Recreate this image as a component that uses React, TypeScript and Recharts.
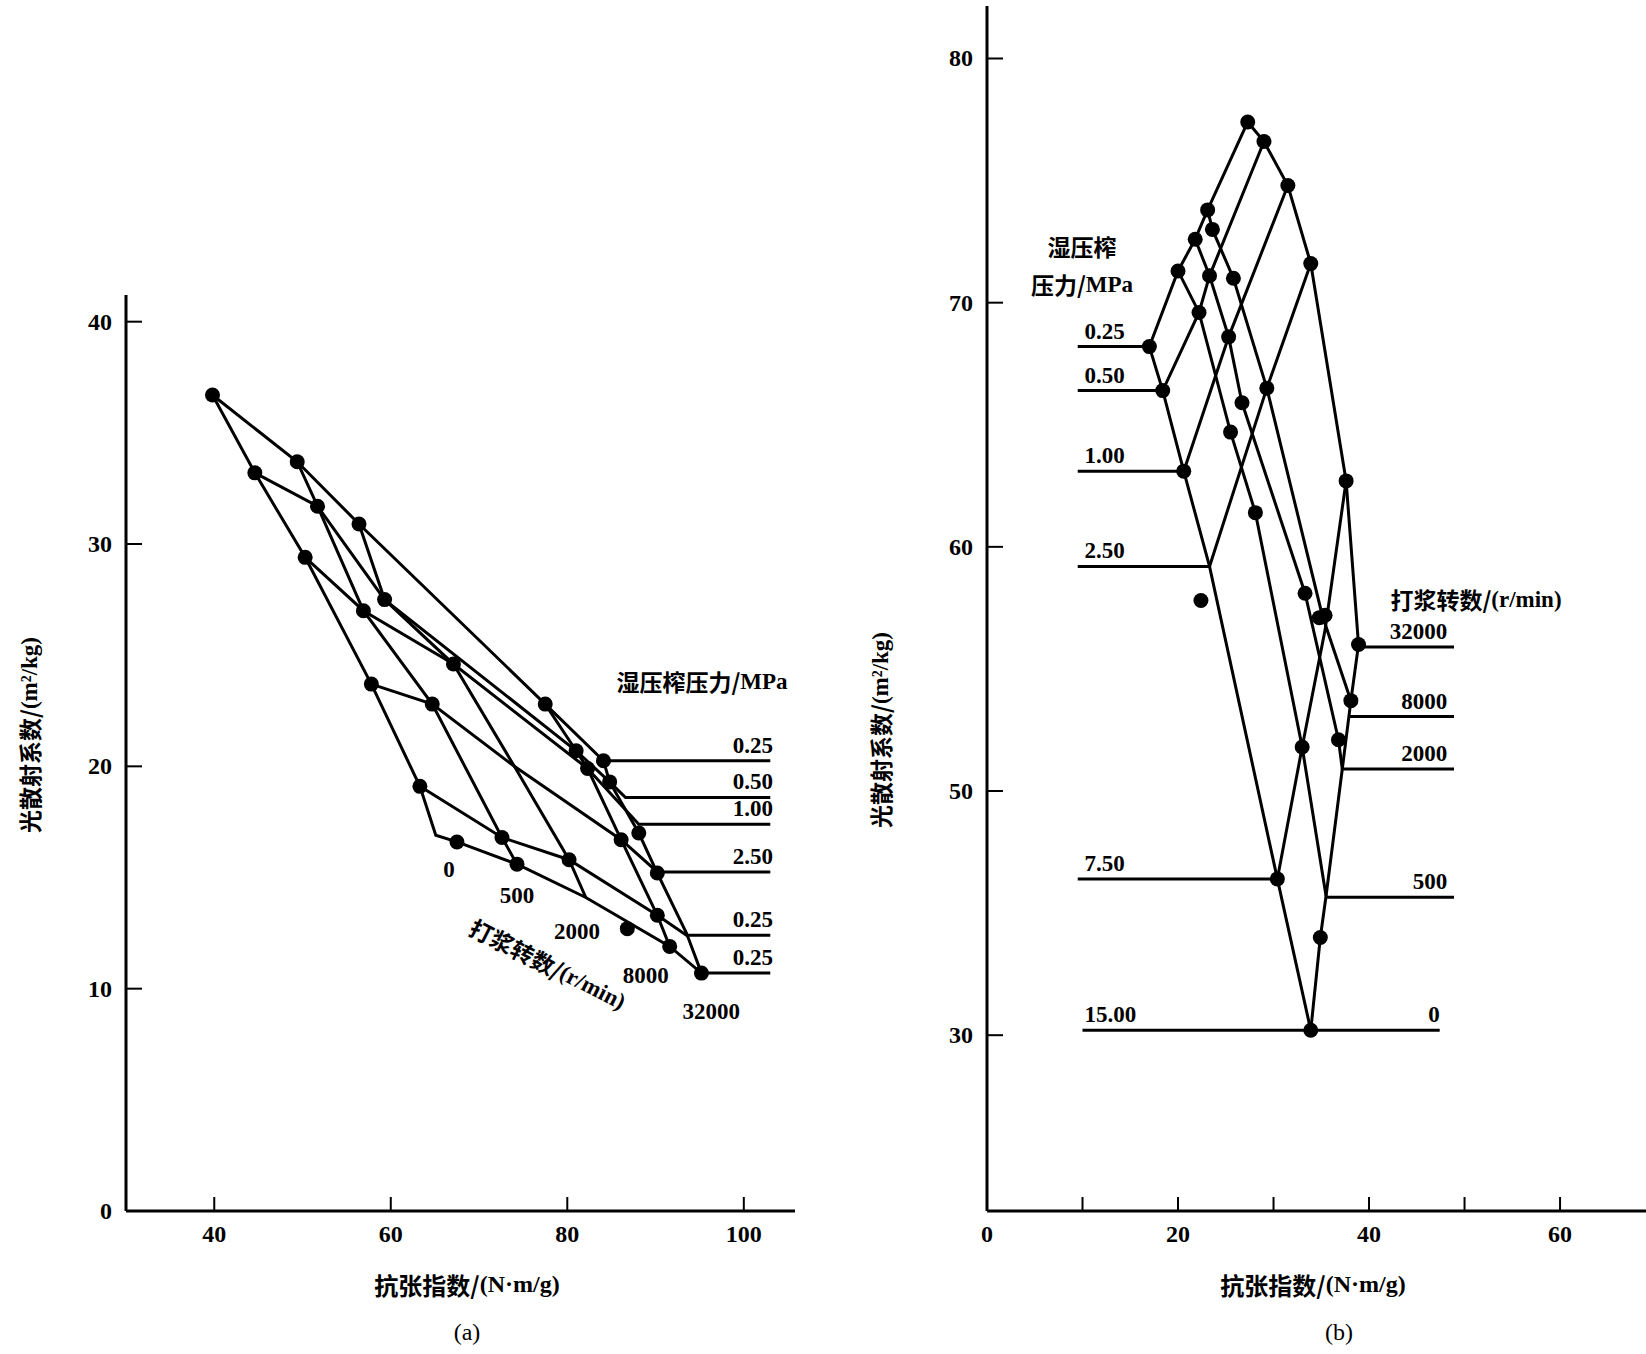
import React from 'react'
import { ComposedChart, Scatter, XAxis, YAxis, ZAxis } from 'recharts'

// ---------- (a) left panel ----------
// beating-revolution curves (steep), pressure curves (shallow)
const aBeat0 = [
  { x: 39.8, y: 36.7 }, { x: 44.6, y: 33.2 }, { x: 50.3, y: 29.4 },
  { x: 57.8, y: 23.7 }, { x: 63.3, y: 19.1 }, { x: 65.1, y: 16.9 }, { x: 67.5, y: 16.6 },
]
const aBeat500 = [
  { x: 49.4, y: 33.7 }, { x: 51.7, y: 31.7 }, { x: 56.9, y: 27.0 },
  { x: 64.7, y: 22.8 }, { x: 72.6, y: 16.8 }, { x: 74.3, y: 15.6 },
]
const aBeat2000 = [
  { x: 56.4, y: 30.9 }, { x: 59.3, y: 27.5 }, { x: 67.1, y: 24.6 },
  { x: 74.0, y: 20.0 }, { x: 80.2, y: 15.8 }, { x: 82.1, y: 14.1 },
]
const aBeat8000 = [
  { x: 77.5, y: 22.8 }, { x: 81.0, y: 20.7 }, { x: 82.3, y: 19.9 },
  { x: 86.1, y: 16.7 }, { x: 90.2, y: 13.3 }, { x: 91.6, y: 11.9 },
]
const aBeat32000 = [
  { x: 84.1, y: 20.25 }, { x: 84.8, y: 19.3 }, { x: 88.1, y: 17.0 },
  { x: 90.2, y: 15.2 }, { x: 93.5, y: 12.5 }, { x: 95.2, y: 10.7 },
]
const aPress1 = [
  { x: 39.8, y: 36.7 }, { x: 49.4, y: 33.7 }, { x: 56.4, y: 30.9 },
  { x: 77.5, y: 22.8 }, { x: 84.1, y: 20.25 }, { x: 103, y: 20.25 },
]
const aPress2 = [
  { x: 44.6, y: 33.2 }, { x: 51.7, y: 31.7 }, { x: 59.3, y: 27.5 },
  { x: 81.0, y: 20.7 }, { x: 84.8, y: 19.3 }, { x: 86.6, y: 18.6 }, { x: 103, y: 18.6 },
]
const aPress3 = [
  { x: 50.3, y: 29.4 }, { x: 56.9, y: 27.0 }, { x: 67.1, y: 24.6 },
  { x: 82.3, y: 19.9 }, { x: 88.1, y: 17.4 }, { x: 103, y: 17.4 },
]
const aPress4 = [
  { x: 57.8, y: 23.7 }, { x: 64.7, y: 22.8 }, { x: 74.0, y: 20.0 },
  { x: 86.1, y: 16.7 }, { x: 90.2, y: 15.25 }, { x: 103, y: 15.25 },
]
const aPress5 = [
  { x: 63.3, y: 19.1 }, { x: 72.6, y: 16.8 }, { x: 80.2, y: 15.8 },
  { x: 90.2, y: 13.3 }, { x: 93.5, y: 12.4 }, { x: 103, y: 12.4 },
]
const aPress6 = [
  { x: 67.5, y: 16.6 }, { x: 74.3, y: 15.6 }, { x: 82.1, y: 14.1 },
  { x: 91.6, y: 11.9 }, { x: 95.2, y: 10.7 }, { x: 103, y: 10.7 },
]
const aDots = [
  { x: 39.8, y: 36.7 }, { x: 44.6, y: 33.2 }, { x: 49.4, y: 33.7 }, { x: 51.7, y: 31.7 },
  { x: 56.4, y: 30.9 }, { x: 50.3, y: 29.4 }, { x: 56.9, y: 27.0 }, { x: 59.3, y: 27.5 },
  { x: 67.1, y: 24.6 }, { x: 57.8, y: 23.7 }, { x: 64.7, y: 22.8 }, { x: 77.5, y: 22.8 },
  { x: 81.0, y: 20.7 }, { x: 84.1, y: 20.25 }, { x: 82.3, y: 19.9 }, { x: 84.8, y: 19.3 },
  { x: 63.3, y: 19.1 }, { x: 88.1, y: 17.0 }, { x: 86.1, y: 16.7 }, { x: 67.5, y: 16.6 },
  { x: 72.6, y: 16.8 }, { x: 74.3, y: 15.6 }, { x: 80.2, y: 15.8 }, { x: 90.2, y: 15.2 },
  { x: 90.2, y: 13.3 }, { x: 86.8, y: 12.7 }, { x: 91.6, y: 11.9 }, { x: 95.2, y: 10.7 },
]
const aPressLabels = [
  { x: 103.3, y: 20.25, t: '0.25' }, { x: 103.3, y: 18.6, t: '0.50' },
  { x: 103.3, y: 17.4, t: '1.00' }, { x: 103.3, y: 15.25, t: '2.50' },
  { x: 103.3, y: 12.4, t: '0.25' }, { x: 103.3, y: 10.7, t: '0.25' },
]
const aBeatLabels = [
  { x: 66.6, y: 15.4, t: '0' }, { x: 74.3, y: 14.2, t: '500' },
  { x: 81.1, y: 12.6, t: '2000' }, { x: 88.9, y: 10.6, t: '8000' },
  { x: 96.3, y: 9.0, t: '32000' },
]
const aXTicks = [40, 60, 80, 100]
const aYTicks = [0, 10, 20, 30, 40]

// ---------- (b) right panel ----------
const bBeat0 = [
  { x: 17.0, y: 68.2 }, { x: 18.4, y: 66.4 }, { x: 20.6, y: 63.1 },
  { x: 23.3, y: 59.2 }, { x: 30.4, y: 46.4 }, { x: 33.9, y: 40.2 },
]
const bBeat500 = [
  { x: 20.0, y: 71.3 }, { x: 22.2, y: 69.6 }, { x: 25.5, y: 64.7 },
  { x: 28.1, y: 61.4 }, { x: 33.0, y: 51.8 }, { x: 35.5, y: 45.7 },
]
const bBeat2000 = [
  { x: 21.8, y: 72.6 }, { x: 23.3, y: 71.1 }, { x: 25.3, y: 68.6 }, { x: 26.7, y: 65.9 },
  { x: 33.3, y: 58.1 }, { x: 36.8, y: 52.1 }, { x: 37.2, y: 50.9 },
]
const bBeat8000 = [
  { x: 23.1, y: 73.8 }, { x: 23.6, y: 73.0 }, { x: 25.8, y: 71.0 },
  { x: 29.3, y: 66.5 }, { x: 35.1, y: 57.2 }, { x: 38.1, y: 53.7 },
]
const bBeat32000 = [
  { x: 27.3, y: 77.4 }, { x: 29.0, y: 76.6 }, { x: 31.5, y: 74.8 },
  { x: 33.9, y: 71.6 }, { x: 37.6, y: 62.7 }, { x: 38.9, y: 56.0 },
]
const bPress1 = [
  { x: 9.5, y: 68.2 }, { x: 17.0, y: 68.2 }, { x: 20.0, y: 71.3 }, { x: 21.8, y: 72.6 },
  { x: 23.1, y: 73.8 }, { x: 27.3, y: 77.4 },
]
const bPress2 = [
  { x: 9.5, y: 66.4 }, { x: 18.4, y: 66.4 }, { x: 22.2, y: 69.6 }, { x: 23.3, y: 71.1 },
  { x: 29.0, y: 76.6 },
]
const bPress3 = [
  { x: 9.5, y: 63.1 }, { x: 20.6, y: 63.1 }, { x: 25.3, y: 68.6 }, { x: 31.5, y: 74.8 },
]
const bPress4 = [
  { x: 9.5, y: 59.2 }, { x: 23.3, y: 59.2 }, { x: 29.3, y: 66.5 }, { x: 33.9, y: 71.6 },
]
const bPress5 = [
  { x: 9.5, y: 46.4 }, { x: 30.4, y: 46.4 }, { x: 33.0, y: 51.8 }, { x: 35.4, y: 56.6 },
  { x: 37.6, y: 62.7 },
]
const bPress6 = [
  { x: 10.0, y: 40.2 }, { x: 47.4, y: 40.2 },
]
const bEdge = [
  { x: 33.9, y: 40.2 }, { x: 34.9, y: 44.0 }, { x: 35.5, y: 45.7 }, { x: 37.2, y: 50.9 },
  { x: 38.1, y: 53.7 }, { x: 38.9, y: 56.0 },
]
const bBeatLines = [
  [{ x: 38.9, y: 55.9 }, { x: 48.9, y: 55.9 }],
  [{ x: 38.0, y: 53.05 }, { x: 48.9, y: 53.05 }],
  [{ x: 37.2, y: 50.9 }, { x: 48.9, y: 50.9 }],
  [{ x: 35.6, y: 45.65 }, { x: 48.9, y: 45.65 }],
]
const bDots = [
  { x: 27.3, y: 77.4 }, { x: 29.0, y: 76.6 }, { x: 31.5, y: 74.8 }, { x: 23.1, y: 73.8 },
  { x: 23.6, y: 73.0 }, { x: 21.8, y: 72.6 }, { x: 33.9, y: 71.6 }, { x: 20.0, y: 71.3 },
  { x: 23.3, y: 71.1 }, { x: 25.8, y: 71.0 }, { x: 22.2, y: 69.6 }, { x: 25.3, y: 68.6 },
  { x: 17.0, y: 68.2 }, { x: 29.3, y: 66.5 }, { x: 18.4, y: 66.4 }, { x: 26.7, y: 65.9 },
  { x: 25.5, y: 64.7 }, { x: 20.6, y: 63.1 }, { x: 28.1, y: 61.4 }, { x: 37.6, y: 62.7 },
  { x: 22.4, y: 57.8 }, { x: 33.3, y: 58.1 }, { x: 35.4, y: 57.2 }, { x: 34.8, y: 57.1 },
  { x: 38.9, y: 56.0 }, { x: 38.1, y: 53.7 }, { x: 36.8, y: 52.1 }, { x: 33.0, y: 51.8 },
  { x: 30.4, y: 46.4 }, { x: 34.9, y: 44.0 }, { x: 33.9, y: 40.2 },
]
const bPressLabels = [
  { x: 10.2, y: 68.2, t: '0.25' }, { x: 10.2, y: 66.4, t: '0.50' },
  { x: 10.2, y: 63.1, t: '1.00' }, { x: 10.2, y: 59.2, t: '2.50' },
  { x: 10.2, y: 46.4, t: '7.50' }, { x: 10.2, y: 40.2, t: '15.00' },
]
const bBeatLabels = [
  { x: 48.2, y: 55.9, t: '32000' }, { x: 48.2, y: 53.05, t: '8000' },
  { x: 48.2, y: 50.9, t: '2000' }, { x: 48.2, y: 45.65, t: '500' },
  { x: 47.4, y: 40.2, t: '0' },
]
const bXTicks = [0, 10, 20, 30, 40, 50, 60]
const bYTicks = [40, 50, 60, 70, 80]
const bYTickText = ['30', '50', '60', '70', '80']

const numFont = '"Liberation Serif", "Times New Roman", serif'
const cjkFont = '"Noto Sans CJK SC", sans-serif'

const noShape = () => <g />
const dotShape = (p: any) => <circle cx={p.cx} cy={p.cy} r={7.5} fill="#000" />

const lineStyle = { stroke: '#000', strokeWidth: 3 }

const makeText = (anchor: string, dy: number, size = 23) => (p: any) => (
  <text x={p.cx} y={p.cy + dy} textAnchor={anchor} fontFamily={numFont} fontSize={size}
    fontWeight="bold" fill="#000">{p.payload.t}</text>
)

const XTick = (p: any) => {
  const v = p.payload.value
  const axisY = p.y - 10
  return (
    <g>
      {v !== 0 && <line x1={p.x} x2={p.x} y1={axisY} y2={axisY - 14} stroke="#000" strokeWidth={2} />}
      {v % 20 === 0 && (
        <text x={p.x} y={axisY + 31} textAnchor="middle" fontFamily={numFont} fontSize={24}
          fontWeight="bold" fill="#000">{v}</text>
      )}
    </g>
  )
}

const YTick = (texts?: string[], ticks?: number[]) => (p: any) => {
  const v = p.payload.value
  const axisX = p.x + 10
  const label = texts && ticks ? texts[ticks.indexOf(v)] : String(v)
  return (
    <g>
      {v !== 0 && <line x1={axisX} x2={axisX + 16} y1={p.y} y2={p.y} stroke="#000" strokeWidth={2} />}
      <text x={axisX - 14} y={p.y + 8} textAnchor="end" fontFamily={numFont} fontSize={24}
        fontWeight="bold" fill="#000">{label}</text>
    </g>
  )
}

const seriesA = [aBeat0, aBeat500, aBeat2000, aBeat8000, aBeat32000,
  aPress1, aPress2, aPress3, aPress4, aPress5, aPress6]
const seriesB = [bBeat0, bBeat500, bBeat2000, bBeat8000, bBeat32000,
  bPress1, bPress2, bPress3, bPress4, bPress5, bPress6, bEdge, ...bBeatLines]

// mixed CJK / Latin caption: Latin part set in the serif face like the source
const Mixed = ({ cjk, latin }: { cjk: string; latin: string }) => (
  <>
    <tspan fontFamily={cjkFont}>{cjk}</tspan>
    <tspan fontFamily={numFont}>{latin}</tspan>
  </>
)

export default function App() {
  return (
    <div style={{ position: 'absolute', left: 0, top: 0, width: 1646, height: 1354, background: '#fff' }}>
      <div style={{ position: 'absolute', left: 0, top: 0 }}>
        <ComposedChart width={830} height={1354} margin={{ top: 295, right: 35, bottom: 83, left: 0 }}>
          <XAxis type="number" dataKey="x" domain={[30, 105.8]} ticks={aXTicks} allowDataOverflow
            axisLine={{ stroke: '#000', strokeWidth: 3 }} tickLine={false} tickSize={0} tickMargin={10}
            tick={XTick} height={60} interval={0} />
          <YAxis type="number" dataKey="y" domain={[0, 41.2]} ticks={aYTicks} allowDataOverflow
            axisLine={{ stroke: '#000', strokeWidth: 3 }} tickLine={false} tickSize={0} tickMargin={10}
            tick={YTick()} width={126} interval={0} />
          <ZAxis range={[60, 60]} />
          {seriesA.map((d, i) => (
            <Scatter key={i} data={d} line={lineStyle} shape={noShape} isAnimationActive={false} />
          ))}
          <Scatter data={aDots} shape={dotShape} isAnimationActive={false} />
          <Scatter data={aPressLabels} shape={makeText('end', -8)} isAnimationActive={false} />
          <Scatter data={aBeatLabels} shape={makeText('middle', 8)} isAnimationActive={false} />
        </ComposedChart>
      </div>
      <div style={{ position: 'absolute', left: 830, top: 0 }}>
        <ComposedChart width={816} height={1354} margin={{ top: 6, right: 0, bottom: 83, left: 0 }}>
          <XAxis type="number" dataKey="x" domain={[0, 69]} ticks={bXTicks} allowDataOverflow
            axisLine={{ stroke: '#000', strokeWidth: 3 }} tickLine={false} tickSize={0} tickMargin={10}
            tick={XTick} height={60} interval={0} />
          <YAxis type="number" dataKey="y" domain={[32.8, 82.15]} ticks={bYTicks} allowDataOverflow
            axisLine={{ stroke: '#000', strokeWidth: 3 }} tickLine={false} tickSize={0} tickMargin={10}
            tick={YTick(bYTickText, bYTicks)} width={157} interval={0} />
          <ZAxis range={[60, 60]} />
          {seriesB.map((d, i) => (
            <Scatter key={i} data={d} line={lineStyle} shape={noShape} isAnimationActive={false} />
          ))}
          <Scatter data={bDots} shape={dotShape} isAnimationActive={false} />
          <Scatter data={bPressLabels} shape={makeText('start', -8)} isAnimationActive={false} />
          <Scatter data={bBeatLabels} shape={makeText('end', -8)} isAnimationActive={false} />
        </ComposedChart>
      </div>
      {/* axis titles, panel captions and free-standing annotations */}
      <div style={{ position: 'absolute', left: 0, top: 0, width: 1646, height: 1354, pointerEvents: 'none' }}>
        <svg width={1646} height={1354}>
          <g fontWeight="bold" fill="#000" fontSize={23}>
            <text x={29} y={735} textAnchor="middle" dominantBaseline="central"
              transform="rotate(-90 29 735)"><Mixed cjk="光散射系数/" latin="(m²/kg)" /></text>
            <text x={880} y={730} textAnchor="middle" dominantBaseline="central"
              transform="rotate(-90 880 730)"><Mixed cjk="光散射系数/" latin="(m²/kg)" /></text>
            <text x={467} y={1284} fontSize={24} textAnchor="middle" dominantBaseline="central">
              <Mixed cjk="抗张指数/" latin="(N·m/g)" /></text>
            <text x={1313} y={1284} fontSize={24} textAnchor="middle" dominantBaseline="central">
              <Mixed cjk="抗张指数/" latin="(N·m/g)" /></text>
            <text x={702} y={681} textAnchor="middle" dominantBaseline="central">
              <Mixed cjk="湿压榨压力/" latin="MPa" /></text>
            <text x={548} y={964} textAnchor="middle" dominantBaseline="central"
              transform="rotate(27 548 964)"><Mixed cjk="打浆转数/" latin="(r/min)" /></text>
            <text x={1082} y={246} textAnchor="middle" dominantBaseline="central" fontFamily={cjkFont}>湿压榨</text>
            <text x={1082} y={284} textAnchor="middle" dominantBaseline="central">
              <Mixed cjk="压力/" latin="MPa" /></text>
            <text x={1476} y={599} textAnchor="middle" dominantBaseline="central">
              <Mixed cjk="打浆转数/" latin="(r/min)" /></text>
          </g>
          <g fontFamily={numFont} fill="#000" fontSize={24}>
            <text x={467} y={1332} textAnchor="middle" dominantBaseline="central">(a)</text>
            <text x={1339} y={1332} textAnchor="middle" dominantBaseline="central">(b)</text>
          </g>
        </svg>
      </div>
    </div>
  )
}
